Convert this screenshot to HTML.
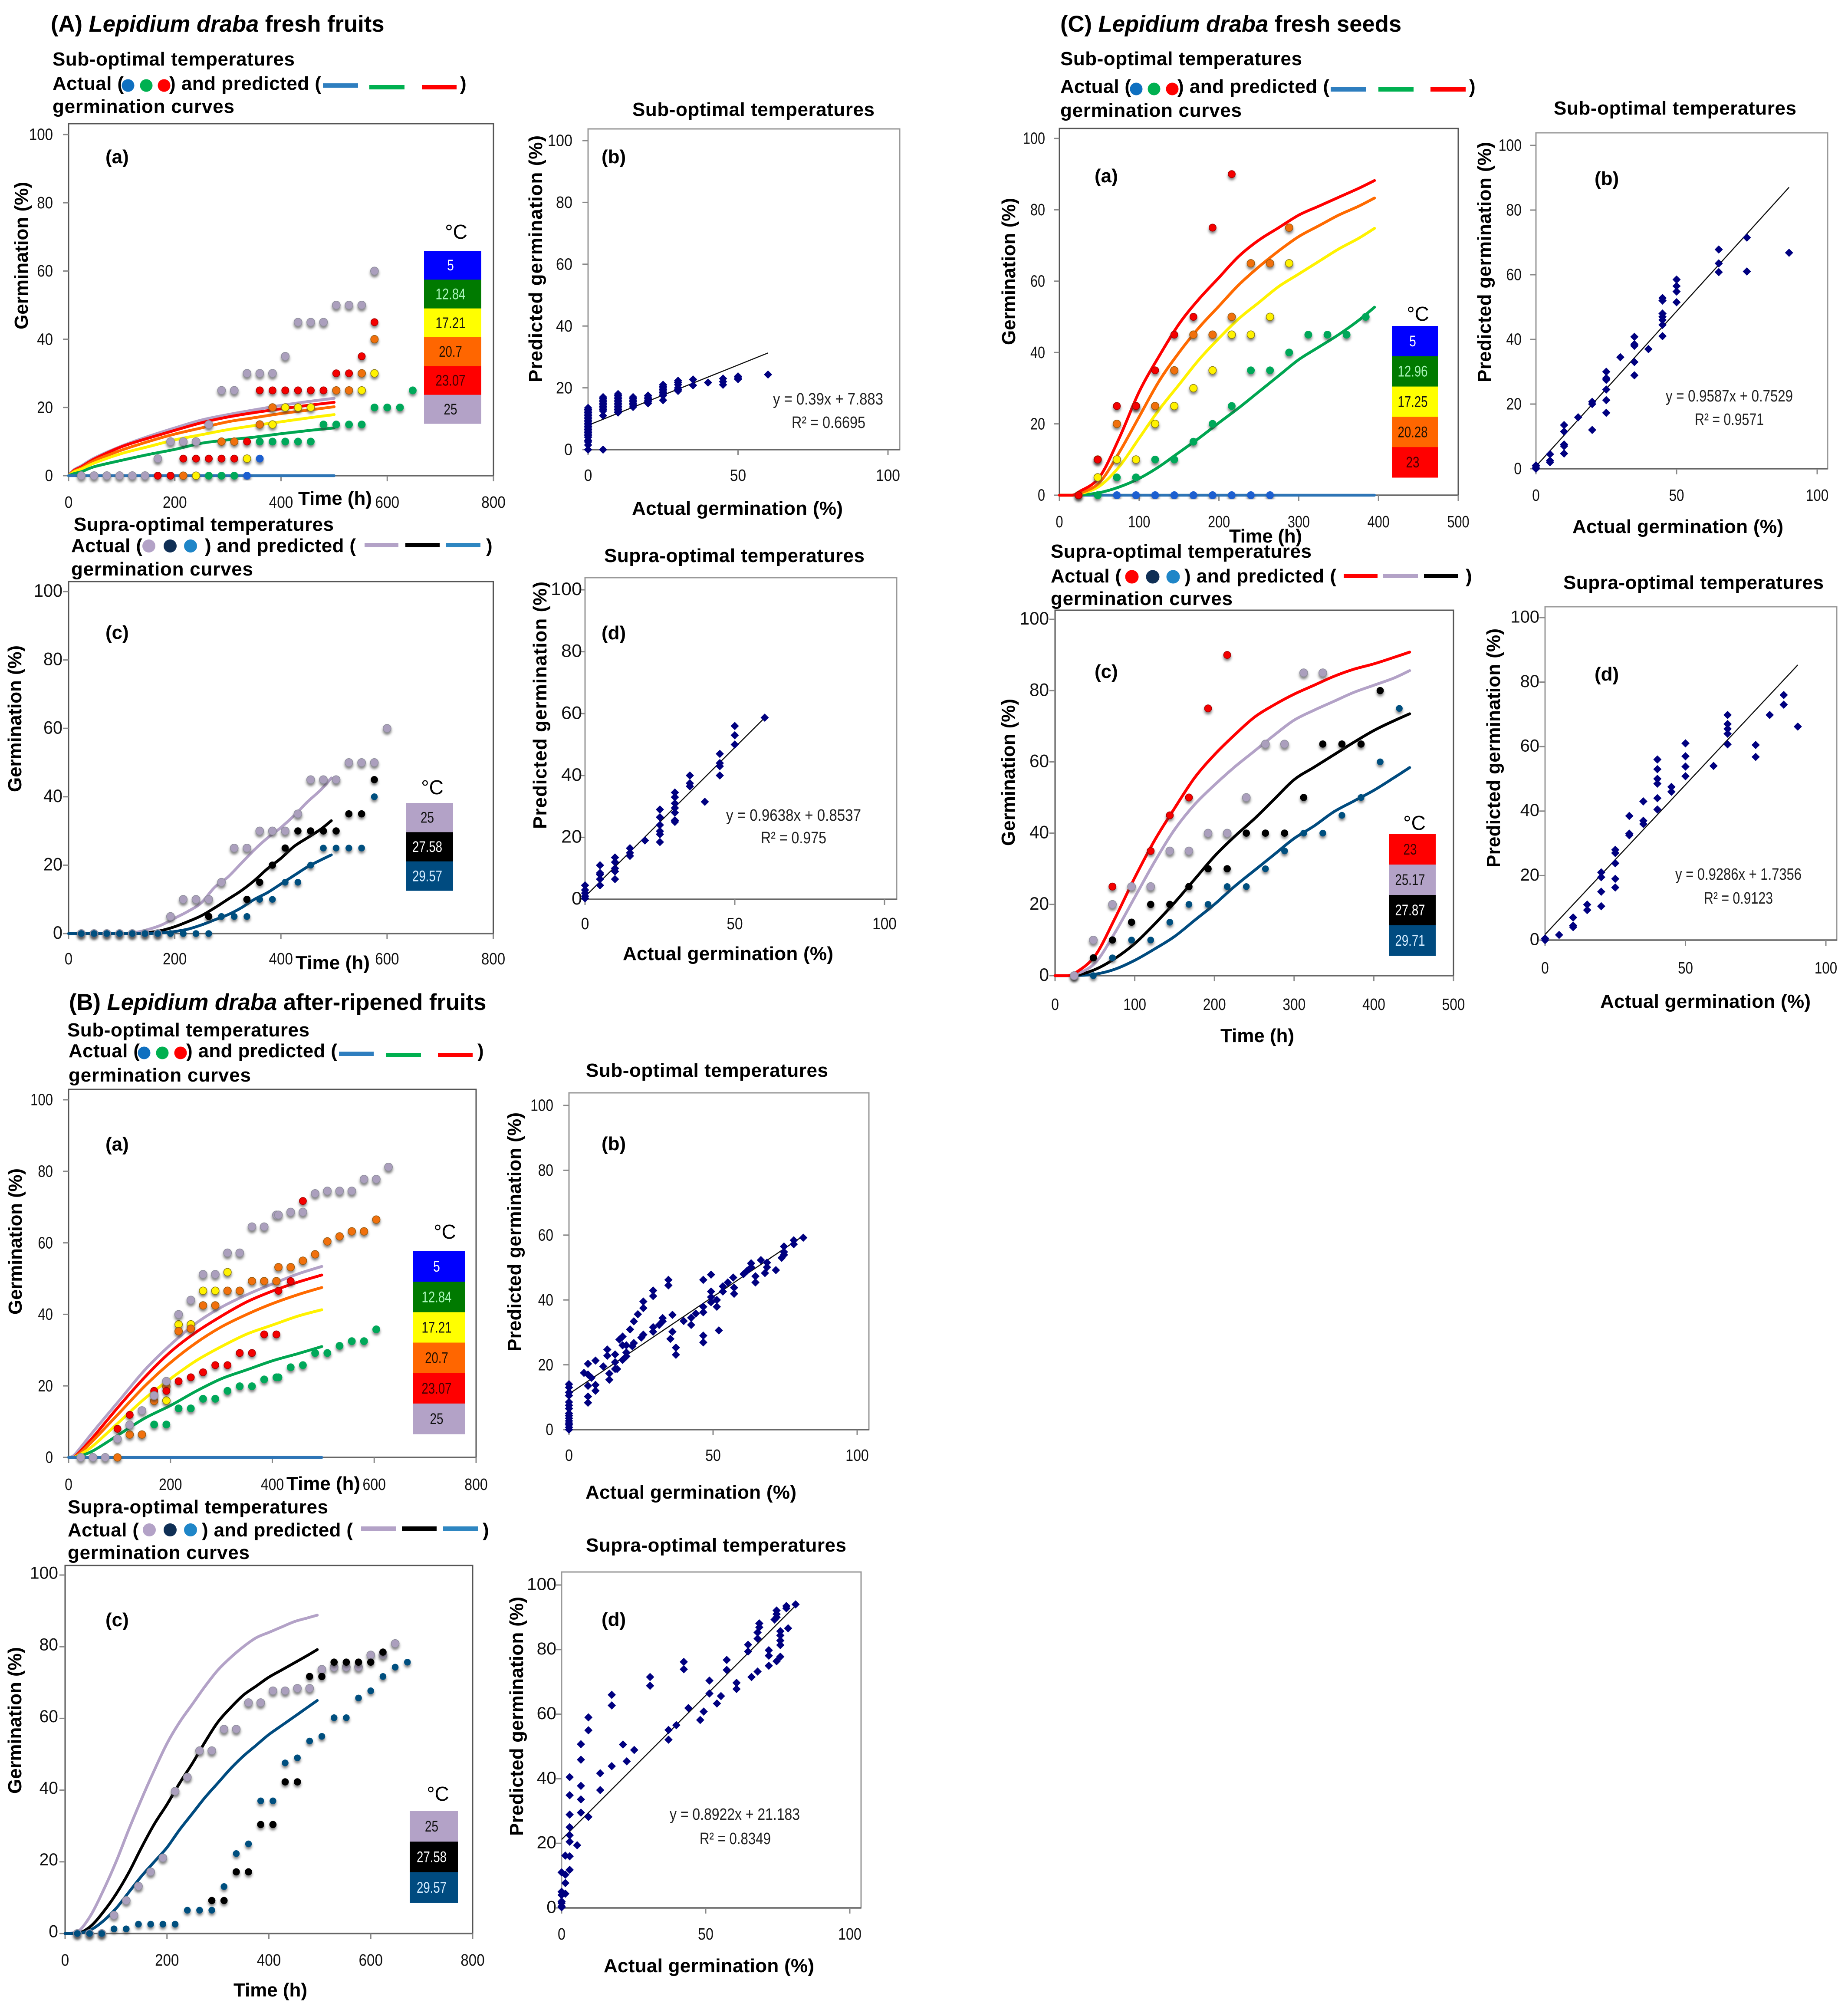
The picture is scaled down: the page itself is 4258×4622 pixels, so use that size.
<!DOCTYPE html>
<html lang="en">
<head>
<meta charset="utf-8">
<title>Lepidium draba germination curves</title>
<style>
html,body{margin:0;padding:0;background:#fff;width:4258px;height:4622px;overflow:hidden}
svg{display:block}
text{font-family:"Liberation Sans",Arial,sans-serif;fill:#000}
.h{font-weight:700;font-size:52.6px}
.b{font-weight:700;font-size:44px}
.l{font-weight:700;font-size:44px}
.eq{font-size:38px;fill:#222}
.deg{font-size:46px;text-anchor:middle}
</style>
</head>
<body>
<svg id="figure" xmlns="http://www.w3.org/2000/svg" width="4258" height="4622" viewBox="0 0 4258 4622">
<defs>
<filter id="dot-shadow" x="-5%" y="-5%" width="110%" height="110%">
<feDropShadow dx="0" dy="5" stdDeviation="3" flood-color="#333" flood-opacity="0.6"/>
</filter>
</defs>
<rect width="4258" height="4622" fill="#fff"/>

<!-- Section headings -->
<text class="h" x="117" y="73">(A) <tspan font-style="italic">Lepidium draba</tspan> fresh fruits</text>
<text class="h" x="159" y="2327">(B) <tspan font-style="italic">Lepidium draba</tspan> after-ripened fruits</text>
<text class="h" x="2443" y="73">(C) <tspan font-style="italic">Lepidium draba</tspan> fresh seeds</text>

<!-- A-a caption -->
<g>
<text class="l" x="121" y="151" textLength="558">Sub-optimal temperatures</text>
<text class="l" x="121" y="207" textLength="164">Actual (</text>
<circle cx="295" cy="197" r="14.5" fill="#0f70c0"/>
<circle cx="337" cy="197" r="14.5" fill="#00b050"/>
<circle cx="378" cy="197" r="14.5" fill="#ff0000"/>
<text class="l" x="390" y="207" textLength="350">) and predicted (</text>
<rect x="744" y="192" width="81" height="10" fill="#2e7ebf"/>
<rect x="851" y="196" width="81" height="10" fill="#00b050"/>
<rect x="972" y="196" width="80" height="10" fill="#ff0000"/>
<text class="l" x="1060" y="207">)</text>
<text class="l" x="121" y="260" textLength="419">germination curves</text>
</g>

<!-- A-c caption -->
<g>
<text class="l" x="170" y="1223" textLength="599">Supra-optimal temperatures</text>
<text class="l" x="164" y="1272" textLength="164">Actual (</text>
<circle cx="343" cy="1258" r="15" fill="#b3a2c7"/>
<circle cx="392" cy="1258" r="15" fill="#0f2f55"/>
<circle cx="439" cy="1258" r="15" fill="#1f86c8"/>
<text class="l" x="472" y="1272" textLength="348">) and predicted (</text>
<rect x="840" y="1251" width="78" height="10" fill="#b3a2c7"/>
<rect x="934" y="1251" width="79" height="10" fill="#000"/>
<rect x="1028" y="1251" width="79" height="10" fill="#2e86c1"/>
<text class="l" x="1120" y="1272">)</text>
<text class="l" x="164" y="1326" textLength="419">germination curves</text>
</g>

<!-- B-a caption -->
<g>
<text class="l" x="155" y="2388" textLength="558">Sub-optimal temperatures</text>
<text class="l" x="158" y="2436" textLength="164">Actual (</text>
<circle cx="332" cy="2426" r="14.5" fill="#0f70c0"/>
<circle cx="374" cy="2426" r="14.5" fill="#00b050"/>
<circle cx="416" cy="2426" r="14.5" fill="#ff0000"/>
<text class="l" x="429" y="2436" textLength="348">) and predicted (</text>
<rect x="781" y="2423" width="80" height="10" fill="#2e7ebf"/>
<rect x="890" y="2426" width="80" height="10" fill="#00b050"/>
<rect x="1009" y="2426" width="80" height="10" fill="#ff0000"/>
<text class="l" x="1100" y="2436">)</text>
<text class="l" x="158" y="2492" textLength="420">germination curves</text>
</g>

<!-- B-c caption -->
<g>
<text class="l" x="156" y="3487" textLength="600">Supra-optimal temperatures</text>
<text class="l" x="156" y="3540" textLength="164">Actual (</text>
<circle cx="344" cy="3525" r="15" fill="#b3a2c7"/>
<circle cx="392" cy="3525" r="15" fill="#0f2f55"/>
<circle cx="439" cy="3525" r="15" fill="#1f86c8"/>
<text class="l" x="465" y="3540" textLength="348">) and predicted (</text>
<rect x="832" y="3517" width="80" height="10" fill="#b3a2c7"/>
<rect x="926" y="3517" width="80" height="10" fill="#000"/>
<rect x="1021" y="3517" width="80" height="10" fill="#2e86c1"/>
<text class="l" x="1112" y="3540">)</text>
<text class="l" x="156" y="3592" textLength="419">germination curves</text>
</g>

<!-- C-a caption -->
<g>
<text class="l" x="2443" y="150" textLength="557">Sub-optimal temperatures</text>
<text class="l" x="2443" y="214" textLength="163">Actual (</text>
<circle cx="2618" cy="205" r="14.5" fill="#0f70c0"/>
<circle cx="2659" cy="205" r="14.5" fill="#00b050"/>
<circle cx="2701" cy="205" r="14.5" fill="#ff0000"/>
<text class="l" x="2713" y="214" textLength="350">) and predicted (</text>
<rect x="3066" y="201" width="81" height="10" fill="#2e7ebf"/>
<rect x="3176" y="201" width="81" height="10" fill="#00b050"/>
<rect x="3296" y="201" width="81" height="10" fill="#ff0000"/>
<text class="l" x="3385" y="214">)</text>
<text class="l" x="2443" y="269" textLength="418">germination curves</text>
</g>

<!-- C-c caption -->
<g>
<text class="l" x="2421" y="1285" textLength="601">Supra-optimal temperatures</text>
<text class="l" x="2421" y="1342" textLength="163">Actual (</text>
<circle cx="2608" cy="1329" r="15.5" fill="#ff0000"/>
<circle cx="2656" cy="1329" r="15.5" fill="#0f2f55"/>
<circle cx="2703" cy="1329" r="15.5" fill="#1f86c8"/>
<text class="l" x="2729" y="1342" textLength="350">) and predicted (</text>
<rect x="3096" y="1322" width="78" height="10" fill="#ff0000"/>
<rect x="3187" y="1322" width="80" height="10" fill="#b3a2c7"/>
<rect x="3281" y="1322" width="79" height="10" fill="#000"/>
<text class="l" x="3377" y="1342">)</text>
<text class="l" x="2421" y="1394" textLength="419">germination curves</text>
</g>

<!-- Scatter titles -->
<text class="l" x="1457" y="267" textLength="558">Sub-optimal temperatures</text>
<text class="l" x="1392" y="1295" textLength="600">Supra-optimal temperatures</text>
<text class="l" x="1350" y="2481" textLength="558">Sub-optimal temperatures</text>
<text class="l" x="1350" y="3575" textLength="600">Supra-optimal temperatures</text>
<text class="l" x="3580" y="264" textLength="559">Sub-optimal temperatures</text>
<text class="l" x="3602" y="1357" textLength="600">Supra-optimal temperatures</text>

<!-- Chart layers filled by script -->
<g id="chart-aa"></g>
<g id="chart-ab"></g>
<g id="chart-ac"></g>
<g id="chart-ad"></g>
<g id="chart-ba"></g>
<g id="chart-bb"></g>
<g id="chart-bc"></g>
<g id="chart-bd"></g>
<g id="chart-ca"></g>
<g id="chart-cb"></g>
<g id="chart-cc"></g>
<g id="chart-cd"></g>

<!-- Y axis titles -->
<text class="b" x="64" y="759" textLength="340" transform="rotate(-90 64 759)">Germination (%)</text>
<text class="b" x="49" y="1825" textLength="338" transform="rotate(-90 49 1825)">Germination (%)</text>
<text class="b" x="50" y="3029" textLength="337" transform="rotate(-90 50 3029)">Germination (%)</text>
<text class="b" x="49" y="4133" textLength="338" transform="rotate(-90 49 4133)">Germination (%)</text>
<text class="b" x="2339" y="795" textLength="339" transform="rotate(-90 2339 795)">Germination (%)</text>
<text class="b" x="2338" y="1949" textLength="339" transform="rotate(-90 2338 1949)">Germination (%)</text>
<text class="b" x="1249" y="881" textLength="569" transform="rotate(-90 1249 881)">Predicted germination (%)</text>
<text class="b" x="1259" y="1910" textLength="570" transform="rotate(-90 1259 1910)">Predicted germination (%)</text>
<text class="b" x="1200" y="3114" textLength="551" transform="rotate(-90 1200 3114)">Predicted germination (%)</text>
<text class="b" x="1205" y="4230" textLength="551" transform="rotate(-90 1205 4230)">Predicted germination (%)</text>
<text class="b" x="3435" y="881" textLength="554" transform="rotate(-90 3435 881)">Predicted germination (%)</text>
<text class="b" x="3456" y="1999" textLength="551" transform="rotate(-90 3456 1999)">Predicted germination (%)</text>

<!-- X axis titles -->
<text class="b" x="687" y="1163" textLength="170">Time (h)</text>
<text class="b" x="681" y="2233" textLength="171">Time (h)</text>
<text class="b" x="660" y="3433" textLength="170">Time (h)</text>
<text class="b" x="538" y="4600" textLength="170">Time (h)</text>
<text class="b" x="2832" y="1250" textLength="168">Time (h)</text>
<text class="b" x="2812" y="2401" textLength="170">Time (h)</text>
<text class="b" x="1456" y="1186" textLength="486">Actual germination (%)</text>
<text class="b" x="1435" y="2212" textLength="485">Actual germination (%)</text>
<text class="b" x="1349" y="3453" textLength="486">Actual germination (%)</text>
<text class="b" x="1391" y="4544" textLength="485">Actual germination (%)</text>
<text class="b" x="3623" y="1228" textLength="486">Actual germination (%)</text>
<text class="b" x="3687" y="2322" textLength="485">Actual germination (%)</text>

<!-- Panel letters -->
<text class="b" x="243" y="376">(a)</text>
<text class="b" x="1386" y="376">(b)</text>
<text class="b" x="243" y="1472">(c)</text>
<text class="b" x="1386" y="1473">(d)</text>
<text class="b" x="243" y="2651">(a)</text>
<text class="b" x="1386" y="2650">(b)</text>
<text class="b" x="243" y="3747">(c)</text>
<text class="b" x="1386" y="3746">(d)</text>
<text class="b" x="2522" y="420">(a)</text>
<text class="b" x="3674" y="426">(b)</text>
<text class="b" x="2522" y="1562">(c)</text>
<text class="b" x="3674" y="1568">(d)</text>

<!-- Degree labels -->
<text class="deg" x="1051" y="550">°C</text>
<text class="deg" x="996" y="1830">°C</text>
<text class="deg" x="1025" y="2854">°C</text>
<text class="deg" x="1009" y="4149">°C</text>
<text class="deg" x="3267" y="739">°C</text>
<text class="deg" x="3259" y="1912">°C</text>

<!-- Regression equations -->
<text class="eq" x="1781" y="932" textLength="254" lengthAdjust="spacingAndGlyphs">y = 0.39x + 7.883</text>
<text class="eq" x="1824" y="986" textLength="170" lengthAdjust="spacingAndGlyphs">R² = 0.6695</text>
<text class="eq" x="1673" y="1891" textLength="311" lengthAdjust="spacingAndGlyphs">y = 0.9638x + 0.8537</text>
<text class="eq" x="1753" y="1943" textLength="151" lengthAdjust="spacingAndGlyphs">R² = 0.975</text>
<text class="eq" x="1543" y="4193" textLength="300" lengthAdjust="spacingAndGlyphs">y = 0.8922x + 21.183</text>
<text class="eq" x="1612" y="4249" textLength="164" lengthAdjust="spacingAndGlyphs">R² = 0.8349</text>
<text class="eq" x="3838" y="925" textLength="293" lengthAdjust="spacingAndGlyphs">y = 0.9587x + 0.7529</text>
<text class="eq" x="3905" y="979" textLength="159" lengthAdjust="spacingAndGlyphs">R² = 0.9571</text>
<text class="eq" x="3860" y="2027" textLength="291" lengthAdjust="spacingAndGlyphs">y = 0.9286x + 1.7356</text>
<text class="eq" x="3926" y="2082" textLength="159" lengthAdjust="spacingAndGlyphs">R² = 0.9123</text>
</svg>

<script>
/* ---------- shared tick labels ---------- */
const timeTicks800 = [0,200,400,600,800];
const timeTicks500 = [0,100,200,300,400,500];
const germTicks = [0,20,40,60,80,100];
const actualTicks = [0,50,100];

/* ---------- (A) fresh fruits, sub-optimal curves ---------- */
const aaCurveHours = [0,10,25,50,100,150,200,250,300,350,400,450,500];
const aaCurvePurple = [0,1.7,3,5.3,8.7,11.5,14,16.3,17.9,19.3,20.6,21.7,22.7];
const aaCurveRed = [0,1.5,2.7,5,8.5,11,13.3,15.5,17.2,18.5,19.6,20.6,21.5];
const aaCurveOrange = [0,1.3,2.3,4.5,7.5,10,12.2,14,15.8,17,18.2,19.2,20.2];
const aaCurveYellow = [0,1.1,2,3.8,6.5,8.5,10.5,12,13.5,14.7,15.8,16.9,17.9];
const aaCurveGreen = [0,0.6,1.2,2.7,4.5,6.2,7.7,9.5,10.5,11.3,12.3,13.2,14];
const aaCurveBlue = [0,0,0,0,0,0,0,0,0,0,0,0,0];
const aaPurpleHours = [24,48,72,96,120,144,168,192,216,240,264,288,312,336,360,384,408,432,456,480,504,528,552,576];
const aaPurpleGerm = [0,0,0,0,0,0,5,10,10,10,15,25,25,30,30,30,35,45,45,45,50,50,50,60];
const aaRedHours = [168,192,216,240,264,288,312,336,360,384,408,432,456,480,504,528,552,576];
const aaRedGerm = [0,0,5,5,5,5,5,10,25,25,25,25,25,25,30,30,35,45];
const aaOrangeHours = [216,288,312,360,384,504,528,552,576];
const aaOrangeGerm = [0,10,10,15,20,25,25,30,40];
const aaYellowHours = [240,336,384,408,432,456,552,576];
const aaYellowGerm = [0,5,15,20,20,20,25,30];
const aaGreenHours = [264,288,312,360,384,408,432,456,480,504,528,552,576,600,624,648];
const aaGreenGerm = [0,0,0,10,10,10,10,10,15,15,15,15,20,20,20,25];
const aaBlueHours = [336,360];
const aaBlueGerm = [0,5];
const aaLegendLabels = ['5','12.84','17.21','20.7','23.07','25'];

/* ---------- (A) sub-optimal scatter ---------- */
const abActual = [
0,0,0,0,0,0,0,0,0,0,0,0,0,0,0,0,0,0,0,0,0,0,0,0,
5,5,5,5,5,5,5,5,5,5,5,5,
10,10,10,10,10,10,10,10,10,10,10,10,10,
15,15,15,15,15,15,15,
20,20,20,20,20,20,
25,25,25,25,25,25,25,25,25,
30,30,30,30,30,30,
35,35,
40,
45,45,45,
50,50,50,
60];
const abPredicted = [
0,1.5,2.5,3,4,4.5,5,5.5,6,6.5,7,7.5,8,8.5,9,9.5,10,10.5,11,11.5,12,12.5,13,13.5,
0,11,12.5,13,13.5,14,14.5,15,15.5,16,16.5,17,
12,12.5,13,13.5,14,14.5,15,15.5,16,16.5,17,17.5,18,
13.8,14.5,15,15.5,16,16.5,17,
15,15.5,16,16.5,17,17.5,
16,17.5,18,18.5,19,19.5,20,20.5,21,
19,19.5,20,21,21.7,22.3,
20.8,22.7,
21.7,
21,22,23,
22.8,23.2,23.7,
24.3];
const abTrend = [0.39,7.883];
const abTrendRange = [0,60];

/* ---------- (A) supra-optimal curves ---------- */
const acCurveHours = [0,100,125,150,175,200,225,250,275,300,325,350,375,400,425,450,475,495];
const acCurvePurple = [0,0,0.3,1.2,2.5,4.5,6.5,9,13.5,16.5,20.5,24.5,28,31,34.5,38.5,42,45.5];
const acCurveBlack = [0,0,0,0.3,0.9,2,3.5,5.2,7.5,10,12.5,15.5,19,22,25.5,28,30.5,33];
const acCurveNavy = [0,0,0,0,0.2,0.6,1.3,2.5,4,5.5,7.5,10,12,14.5,17,19.5,21.5,23];
const acPurpleHours = [24,48,72,96,120,144,168,192,216,240,264,288,312,336,360,384,408,432,456,480,504,528,552,576,600];
const acPurpleGerm = [0,0,0,0,0,0,0,5,10,10,10,15,25,25,30,30,30,35,45,45,45,50,50,50,60];
const acBlackHours = [264,336,360,384,408,432,456,480,504,528,552,576];
const acBlackGerm = [5,10,15,20,25,30,30,30,30,35,35,45];
const acNavyHours = [24,48,72,96,120,144,168,192,216,240,264,288,312,336,360,384,408,432,456,480,504,528,552,576];
const acNavyGerm = [0,0,0,0,0,0,0,0,0,0,0,5,5,5,10,10,15,15,20,25,25,25,25,40];
const acLegendLabels = ['25','27.58','29.57'];

/* ---------- (A) supra-optimal scatter ---------- */
const adActual = [
0,0,0,0,0,
5,5,5,5,5,
10,10,10,10,10,
15,15,15,
20,
25,25,25,25,25,25,
30,30,30,30,30,30,30,
35,35,35,
40,
45,45,45,45,
50,50,50,
60];
const adPredicted = [
0.3,1,2,3,4.5,
4.5,6.5,8,8.5,11,
6.5,9,10,12,13.5,
14,15,16.5,
19,
18.5,21,22,24,26.5,29,
25,25.5,28,29.5,31,33,34.5,
36.5,37.5,40,
31.5,
40,43,44,47,
50,53,56,
58.7];
const adTrend = [0.9638,0.8537];
const adTrendRange = [0,60];

/* ---------- (B) after-ripened, sub-optimal curves ---------- */
const baCurveHours = [0,10,25,50,100,150,200,250,300,350,400,450,497];
const baCurvePurple = [0,0.5,3,7.5,16,24.5,31.5,37.5,42,45.5,48.5,51.3,53.4];
const baCurveRed = [0,0,2,6,14.5,22.5,29.5,35,39.5,43.5,46.5,49,51];
const baCurveOrange = [0,0,1.5,5,12.5,20,26.5,32,36.5,40,43,45.5,47.5];
const baCurveYellow = [0,0,1,3.5,10,16.5,22,27,31,34.5,37,39.5,41.3];
const baCurveGreen = [0,0,0.5,2,6.5,11,14.5,18.5,22,24.5,27,29,31];
const baCurveBlue = [0,0,0,0,0,0,0,0,0,0,0,0,0];
const baPurpleHours = [24,48,72,96,120,144,168,192,216,240,264,288,312,336,360,384,408,412,436,460,484,508,532,556,580,604,628];
const baPurpleGerm = [0,0,0,5.2,9.1,13.1,17.3,21.3,40,44,51.2,51.2,57.2,57.2,64.5,64.5,67.8,67.8,68.6,68.6,73.8,74.5,74.5,74.5,77.8,77.8,81.2];
const baOrangeHours = [96,120,144,168,192,216,240,264,288,312,336,360,384,408,412,436,460,484,508,532,556,580,604];
const baOrangeGerm = [0,6.4,6.4,15.8,19.8,35.3,36,42.5,42.5,46.6,46.6,49.3,49.3,49.3,53.2,53.2,55,56.8,60.4,61.8,63.2,63.2,66.5];
const baYellowHours = [192,216,240,264,288,312];
const baYellowGerm = [15.9,37.2,37.2,46.6,46.6,51.8];
const baRedHours = [96,120,168,192,216,240,264,288,312,336,360,384,408,412,436,460];
const baRedGerm = [8,11.9,18.6,18.6,21.3,22.4,23.8,25.8,25.8,29.2,29.2,34.4,34.4,46.6,49.3,71.7];
const baGreenHours = [168,192,216,240,264,288,312,336,360,384,408,412,436,460,484,508,532,556,580,604];
const baGreenGerm = [9.2,9.2,13.7,13.7,16.4,16.4,18.6,19.9,19.9,21.8,22.4,22.4,25.2,25.8,29.2,29.2,31.2,32.5,32.5,35.8];
const baLegendLabels = ['5','12.84','17.21','20.7','23.07','25'];

/* ---------- (B) sub-optimal scatter ---------- */
const bbActual = [
0,0,0,0,0,0,0,0,0,0,0,0,0,0,0,
5.2,6.6,6.6,6.6,6.6,6.6,7.8,9.2,9.2,9.2,11.9,13.3,13.3,14,14,
16,16,16,16.7,17.5,18.6,18.6,18.6,19.9,19.9,19.9,21.2,22.5,22,22.5,23.9,25.1,25.8,25.8,25.8,
29.2,29.2,29.2,29.2,31.3,32.5,32.5,34.5,34.5,35.9,35.9,35.2,37.1,37.1,39.8,42.4,42.4,44,
46.6,46.6,46.6,46.6,46.6,49.3,49.3,49.3,49.3,51.3,51.3,52,53.4,53.4,55.1,57,57.3,57.3,
60.6,61.8,63.2,63.2,64.7,64.7,66.6,68,68.7,68.7,71.8,73.8,74.6,74.6,74.6,78,78,81.3];
const bbPredicted = [
0,0.7,1.5,2,2.7,3.5,4.3,5,6.5,7.5,8.5,10.5,11.5,13,14,
17.5,20.3,17,13.5,10.2,8.3,16,21.3,13.8,12,19.5,24.7,22.8,17.3,15.4,
23.2,20.8,18.7,18.7,27.8,28.7,26,21.5,26,23.8,22.6,30.9,33.4,25.7,26.7,35.6,28.4,39.5,37.5,29.3,
42.9,41.2,31.6,30.2,32.3,33.4,34.4,46.2,44.5,35.4,30.2,28,25.3,23.1,33.5,34.5,32.3,35.8,
46.2,37.9,36.2,29,26.9,47.8,42.6,40.9,39.3,40,37.9,30.6,44.2,42.6,45.4,46.9,43.8,41.9,
48,49,51.3,50.1,47.3,45.4,52.3,48.3,51.5,50.1,49.2,53,56.5,54.8,53.9,58.4,57.2,59.2];
const bbTrend = [0.6,11];
const bbTrendRange = [0,81];

/* ---------- (B) supra-optimal curves ---------- */
const bcCurveHours = [0,25,50,75,100,125,150,175,200,225,250,275,300,325,350,375,400,425,450,475,495];
const bcCurvePurple = [0,0.5,5,12,20,29,37.5,45.5,53,59,64,69,73.5,77,80,82.5,84,85.5,87,88,88.8];
const bcCurveBlack = [0,0,2,6,11,17,24,30.5,36,42,47.5,53.5,59,63,66.5,69,71.5,73.5,75.5,77.5,79.2];
const bcCurveNavy = [0,0,1,3.5,7,11.5,16,20,24,29,33.5,38,42,46,49.5,52.5,55.5,58,60.5,63,65];
const bcPurpleHours = [24,48,72,96,120,144,168,192,216,240,264,288,312,336,360,384,408,432,456,480,504,528,552,576,600,624,648];
const bcPurpleGerm = [0,0,0,5.1,9.2,13.2,17.2,21.1,39.7,43.6,51,51,57,57,64.4,64.4,67.7,67.7,68.4,68.4,73.7,74.3,74.3,74.3,77.7,77.7,80.9];
const bcBlackHours = [288,312,336,360,384,408,432,456,480,504,528,552,576,600,624];
const bcBlackGerm = [9.2,9.2,17.2,17.2,30.4,30.4,42.3,42.3,71.7,71.7,75.7,75.7,75.7,75.7,78.5];
const bcNavyHours = [24,48,72,96,120,144,168,192,216,240,264,288,312,336,360,384,408,432,456,480,504,528,552,576,600,624,648,672];
const bcNavyGerm = [0,0,0,1.3,1.3,2.6,2.6,2.6,2.6,6.5,6.5,6.5,13.1,22.3,25,37,37,47.6,49,53.7,55,60.2,60.2,65.7,67.7,71.7,74.3,75.7];
const bcLegendLabels = ['25','27.58','29.57'];

/* ---------- (B) supra-optimal scatter ---------- */
const bdActual = [
0,0,0,0,0,0,0,
1.3,1.3,1.3,1.3,
2.8,2.8,2.8,2.8,2.8,2.8,2.8,2.8,
5.4,6.7,6.7,6.7,6.7,6.7,9.3,9.3,9.3,
13.4,13.4,17.4,17.4,17.4,21.3,22.6,25.2,30.7,30.7,
37.1,37.1,39.8,42.4,42.4,44,48.1,49.3,51.3,51.3,53.9,55.3,57.3,57.3,
60.7,60.7,64.7,64.7,65.9,68,68,68,68.6,68.6,
71.9,71.9,71.9,73.9,74.6,74.6,74.6,74.6,75.9,75.9,75.9,75.9,75.9,78,78,78.6,81.2];
const bdPredicted = [
0.2,0.5,1.5,2,4,5,11,
16.2,10.3,7.7,4.4,
40.5,34.9,28.9,25,22.5,20.5,16,11.8,
19.4,50.7,45.9,37.8,33.6,29.5,59,55,28.2,
41.7,36.5,66,62.7,43.9,50.6,45.4,48.9,71.5,68.8,
55.1,52.1,56.6,76.2,73.9,61.9,58.2,60.8,70.4,66.4,63.3,65.6,76.8,73.7,
69.7,67.8,81.5,79.4,71.5,73.2,85.3,83.4,88.1,86.9,
79.8,78.1,75,89.3,92.1,91,90,76.4,77.8,85.7,84.4,82.8,81.4,93.5,92.8,86.6,94];
const bdTrend = [0.8922,21.183];
const bdTrendRange = [0,81];

/* ---------- (C) fresh seeds, sub-optimal curves ---------- */
const caCurveHours = [0,16,25,50,75,100,125,150,175,200,225,250,275,300,325,350,375,395];
const caCurveRed = [0,0,1,5,16,29,39,48,55,61,67,71.5,75,78.5,81,83.5,86,88.2];
const caCurveOrange = [0,0,0.5,3.5,12,22,32,40,47,53,59,64,68.5,72.5,75.5,78.5,81,83.3];
const caCurveYellow = [0,0,0.3,2.5,8,16,24,31,38,44,49.5,54,58.5,62,65.5,69,72,74.8];
const caCurveGreen = [0,0,0,0.7,2.3,4.7,8,12,16,20.3,24.5,29,33.5,38,41.5,45,49,52.7];
const caCurveBlue = [0,0,0,0,0,0,0,0,0,0,0,0,0,0,0,0,0,0];
const caBlueHours = [72,96,120,144,168,192,216,240,264];
const caBlueGerm = [0,0,0,0,0,0,0,0,0];
const caGreenHours = [48,72,96,120,144,168,192,216,240,264,288,312,336,360,384];
const caGreenGerm = [0,5,5,10,10,15,20,25,35,35,40,45,45,45,50];
const caYellowHours = [48,72,96,120,144,168,192,216,240,264,288];
const caYellowGerm = [5,10,10,20,25,30,35,45,45,50,65];
const caOrangeHours = [24,48,72,96,120,144,168,192,216,240,264,288];
const caOrangeGerm = [0,10,20,25,25,35,45,45,50,65,65,75];
const caRedHours = [24,48,72,96,120,144,168,192,216];
const caRedGerm = [0,10,25,25,35,45,50,75,90];
const caLegendLabels = ['5','12.96','17.25','20.28','23'];

/* ---------- (C) sub-optimal scatter ---------- */
const cbActual = [
0,0,0,
5,5,5,
10,10,10,10,10,
15,
20,20,20,
25,25,25,25,25,25,
30,
35,35,35,35,35,
40,
45,45,45,45,45,45,45,
50,50,50,50,
65,65,65,
75,75,
90];
const cbPredicted = [
0,0.5,1,
2,2.5,4.5,
4.7,7,7.5,11.5,13.5,
15.9,
12,20,20.7,
17.3,21.2,24.5,27.5,28,30,
34.5,
28.9,33,38,38.5,40.8,
37,
41,44.5,46,47,48,52,52.8,
51.5,54.8,56.5,58.5,
60.8,63.5,67.8,
61,71.5,
66.8];
const cbTrend = [0.9587,0.7529];
const cbTrendRange = [0,90];

/* ---------- (C) supra-optimal curves ---------- */
const ccCurveHours = [0,15,25,50,75,100,125,150,175,200,225,250,275,300,325,350,375,400,425,445];
const ccCurveRed = [0,0,0.7,5.5,16,27.5,38,47,55.5,62,67.5,72.5,76,79,81.5,84,86,87.5,89.3,90.8];
const ccCurvePurple = [0,0,0.3,3.5,12,22,32,41,48,53.5,58.5,63,67.5,71.7,74.5,77,79.5,81.5,83.5,85.6];
const ccCurveBlack = [0,0,0,1.7,4.8,9,14.5,20.5,27,33.5,39,44,49.5,55,58.5,62,65.5,68.8,71.5,73.5];
const ccCurveNavy = [0,0,0,0.4,1.8,4.3,7.5,11,15.5,20,25,29.5,34,38.5,42,46,49,52,55.5,58.4];
const ccNavyHours = [24,48,72,96,120,144,168,192,216,240,264,288,312,336,360,384,408,432];
const ccNavyGerm = [0,0,5,10,10,15,20,20,25,25,30,35,40,40,45,50,60,75];
const ccBlackHours = [24,48,72,96,120,144,168,192,216,240,264,288,312,336,360,384,408];
const ccBlackGerm = [0,5,10,15,20,20,25,30,30,40,40,40,50,65,65,65,80];
const ccPurpleHours = [24,48,72,96,120,144,168,192,216,240,264,288,312,336];
const ccPurpleGerm = [0,10,20,25,25,35,35,40,40,50,65,65,85,85];
const ccRedHours = [72,120,144,168,192,216];
const ccRedGerm = [25,35,45,50,75,90];
const ccLegendLabels = ['23','25.17','27.87','29.71'];

/* ---------- (C) supra-optimal scatter ---------- */
const cdActual = [
0,0,
5,
10,10,10,
15,15,
20,20,20,20,
25,25,25,25,25,
30,30,30,
35,35,35,
40,40,40,40,40,40,
45,45,
50,50,50,50,
60,
65,65,65,65,65,
75,75,
80,
85,85,
90];
const cdPredicted = [
0,0.5,
1.6,
4,4.5,7,
9.3,11,
10.5,15,19.5,21,
16.3,19,23.8,27,28,
32.5,33,38.5,
36,37,43,
40.5,44,48.5,50,53,56,
46,47.5,
50.8,53.8,57,61,
54,
60.7,64,65.5,67,69.8,
56.8,60.5,
69.8,
73,76,
66.2];
const cdTrend = [0.9286,1.7356];
const cdTrendRange = [0,90];

/* ---------- drawing helpers ---------- */
const NS = 'http://www.w3.org/2000/svg';
const STYLE = {
  purple:{line:'#b3a2c7',fill:'#ab9fbd',stroke:'#8f8f9c',r:9.2},
  red:{line:'#ff0000',fill:'#f40000',stroke:'#a80000',r:8.2},
  orange:{line:'#ff6a00',fill:'#f0700f',stroke:'#9a5a10',r:8.8},
  yellow:{line:'#fff200',fill:'#fff200',stroke:'#8a7a10',r:8.8},
  green:{line:'#00a651',fill:'#00a85a',stroke:'#00a85a',r:8.2},
  blue:{line:'#2e75b6',fill:'#1f5fd0',stroke:'#1f5fd0',r:8.2},
  black:{line:'#000000',fill:'#000000',stroke:'#000000',r:7.6},
  navy:{line:'#004b7f',fill:'#00507f',stroke:'#00507f',r:7}
};
const KEY_FILL = {blue:'#0000ff',green:'#007a00',yellow:'#ffff00',orange:'#ff6600',red:'#ff0000',purple:'#b3a2c7',black:'#000000',navy:'#004b80'};
const KEY_TEXT = {blue:'#ffffff',green:'#aaf5bb',yellow:'#111111',orange:'#221100',red:'#440000',purple:'#111111',black:'#ffffff',navy:'#d5ecff'};

function make(tag, parent, attrs){
  const e = document.createElementNS(NS, tag);
  for(const k in attrs){ e.setAttribute(k, attrs[k]); }
  parent.appendChild(e);
  return e;
}
function scales(c){
  return {
    x: v => c.xPx0 + (v / c.xMax) * (c.xPxMax - c.xPx0),
    y: v => c.y0 + (v / 100) * (c.y100 - c.y0)
  };
}
function labelWidth(s, digit){
  return String(s).length * digit;
}
/* Smooth path through the scaled data points (Catmull-Rom to Bezier). */
function smoothPath(p){
  let d = 'M' + p[0][0].toFixed(1) + ' ' + p[0][1].toFixed(1);
  for(let i = 0; i < p.length - 1; i++){
    const a = p[Math.max(i-1,0)], b = p[i], c = p[i+1], e = p[Math.min(i+2,p.length-1)];
    const c1x = b[0] + (c[0]-a[0])/6, c1y = Math.min(b[1] + (c[1]-a[1])/6, Math.max(b[1],c[1]));
    const c2x = c[0] - (e[0]-b[0])/6, c2y = Math.min(c[1] - (e[1]-b[1])/6, Math.max(b[1],c[1]));
    d += ' C' + c1x.toFixed(1) + ' ' + c1y.toFixed(1) + ' ' + c2x.toFixed(1) + ' ' + c2y.toFixed(1) + ' ' + c[0].toFixed(1) + ' ' + c[1].toFixed(1);
  }
  return d;
}
function drawAxes(c, xTicks, yTicks){
  const g = document.getElementById('chart-' + c.id);
  const s = scales(c);
  const frame = make('rect', g, {x:c.xPx0, y:c.top, width:c.right-c.xPx0, height:c.y0-c.top, fill:'none', stroke:c.frame, 'stroke-width':3});
  
  
  const axis = make('line', g, {x1:c.xPx0, x2:c.right, y1:c.y0, y2:c.y0, stroke:'#666', 'stroke-width':3.5});
  
  
  xTicks.forEach(t => {
    const px = s.x(t);
    const tick = make('line', g, {x1:px, x2:px, y1:c.y0, y2:c.y0+13, stroke:'#888', 'stroke-width':3});
    
    
    const lab = make('text', g, {x:px-labelWidth(t,c.xDigit)/2, y:c.xBase, 'font-size':c.xSize, textLength:labelWidth(t,c.xDigit), lengthAdjust:'spacingAndGlyphs'});
    lab.style.fill = '#111';
    lab.textContent = t;
    
    
  });
  yTicks.forEach(t => {
    const py = s.y(t);
    const tick = make('line', g, {x1:c.xPx0-13, x2:c.xPx0, y1:py, y2:py, stroke:'#888', 'stroke-width':3});
    
    
    const w = labelWidth(t,c.yDigit);
    const lab = make('text', g, {x:c.yRight-w, y:py+c.ySize*0.36+c.yDy, 'font-size':c.ySize, textLength:w, lengthAdjust:'spacingAndGlyphs'});
    lab.style.fill = '#111';
    lab.textContent = t;
    
    
  });
}
function drawCurve(c, hours, germ, color){
  const g = document.getElementById('chart-' + c.id);
  const s = scales(c);
  const pts = hours.map((h,i) => [s.x(h), s.y(germ[i])]);
  const line = make('path', g, {d:smoothPath(pts), fill:'none', stroke:STYLE[color].line, 'stroke-width':6.5, 'stroke-linejoin':'round', 'stroke-linecap':'round'});
  
  
}
function drawDots(c, hours, germ, color){
  const g = document.getElementById('chart-' + c.id);
  const s = scales(c);
  const st = STYLE[color];
  const layer = make('g', g, {filter:'url(#dot-shadow)'});
  
  
  hours.forEach((h,i) => {
    const dot = make('circle', layer, {cx:s.x(h), cy:s.y(germ[i]), r:st.r, fill:st.fill, stroke:st.stroke, 'stroke-width':1.5});
    
    
  });
}
function drawKey(c, labels, colors, box){
  const g = document.getElementById('chart-' + c.id);
  const h = (box.y1 - box.y0) / labels.length;
  labels.forEach((lab,i) => {
    const swatch = make('rect', g, {x:box.x0, y:box.y0+i*h, width:box.x1-box.x0, height:h+0.5, fill:KEY_FILL[colors[i]]});
    
    
    const digits = lab.replace('.','').length;
    const w = digits*15.5 + (lab.indexOf('.')>=0 ? 7 : 0);
    const cx = (box.x0+box.x1)/2 - 5;
    const t = make('text', g, {x:cx-w/2, y:box.y0+i*h+h/2+12, 'font-size':35, textLength:w, lengthAdjust:'spacingAndGlyphs'});
    t.style.fill = KEY_TEXT[colors[i]];
    t.textContent = lab;
    
    
  });
}
function drawScatter(c, actual, predicted, trend, range){
  const g = document.getElementById('chart-' + c.id);
  const s = scales(c);
  const tl = make('line', g, {x1:s.x(range[0]), y1:s.y(trend[0]*range[0]+trend[1]), x2:s.x(range[1]), y2:s.y(trend[0]*range[1]+trend[1]), stroke:'#111', 'stroke-width':2.5});
  
  
  actual.forEach((a,i) => {
    const px = s.x(a), py = s.y(predicted[i]), d = 9.5;
    const m = make('polygon', g, {points:(px)+','+(py-d)+' '+(px+d)+','+py+' '+px+','+(py+d)+' '+(px-d)+','+py, fill:'#000080'});
    
    
  });
}

/* ---------- chart geometry ---------- */
const DARK = '#555', GREY = '#999';
const cAA = {id:'aa',xMax:800,xPx0:158,xPxMax:1137,right:1137,top:285,y0:1096,y100:310,frame:DARK,xBase:1170,yRight:122,yDy:-1,xDigit:18.6,yDigit:18.4,xSize:38,ySize:38};
const cAB = {id:'ab',xMax:100,xPx0:1355,xPxMax:2046,right:2073,top:297,y0:1036,y100:324,frame:GREY,xBase:1108,yRight:1319,yDy:-1,xDigit:18.6,yDigit:19,xSize:38,ySize:38};
const cAC = {id:'ac',xMax:800,xPx0:158,xPxMax:1136.5,right:1136.5,top:1340,y0:2151,y100:1363,frame:DARK,xBase:2222,yRight:144,yDy:-3,xDigit:18.4,yDigit:22,xSize:38,ySize:42};
const cAD = {id:'ad',xMax:100,xPx0:1348,xPxMax:2038,right:2066,top:1331,y0:2072,y100:1359,frame:GREY,xBase:2141,yRight:1341,yDy:-3,xDigit:18.6,yDigit:24,xSize:38,ySize:42};
const cBA = {id:'ba',xMax:800,xPx0:158,xPxMax:1097,right:1097,top:2510,y0:3358,y100:2534,frame:DARK,xBase:3433,yRight:122,yDy:-1,xDigit:17.8,yDigit:17.3,xSize:38,ySize:38};
const cBB = {id:'bb',xMax:100,xPx0:1311,xPxMax:1975,right:2002,top:2518,y0:3294,y100:2547,frame:GREY,xBase:3366,yRight:1275,yDy:-1,xDigit:17.8,yDigit:17.6,xSize:38,ySize:38};
const cBC = {id:'bc',xMax:800,xPx0:150,xPxMax:1089,right:1089,top:3607,y0:4455,y100:3629,frame:DARK,xBase:4529,yRight:134,yDy:-6,xDigit:18.4,yDigit:21.7,xSize:38,ySize:40};
const cBD = {id:'bd',xMax:100,xPx0:1294,xPxMax:1958,right:1984,top:3622,y0:4396,y100:3652,frame:GREY,xBase:4469,yRight:1282,yDy:-3,xDigit:18,yDigit:22.7,xSize:38,ySize:40};
const cCA = {id:'ca',xMax:500,xPx0:2441,xPxMax:3360,right:3360,top:296,y0:1141,y100:319,frame:DARK,xBase:1215,yRight:2408,yDy:-1,xDigit:17,yDigit:17,xSize:38,ySize:38};
const cCB = {id:'cb',xMax:100,xPx0:3539,xPxMax:4187,right:4211,top:306,y0:1080,y100:335,frame:GREY,xBase:1154,yRight:3506,yDy:-1,xDigit:17.4,yDigit:17.8,xSize:38,ySize:38};
const cCC = {id:'cc',xMax:500,xPx0:2431,xPxMax:3349,right:3349,top:1406,y0:2248,y100:1427,frame:DARK,xBase:2327,yRight:2417,yDy:-3,xDigit:17.6,yDigit:22.5,xSize:38,ySize:42};
const cCD = {id:'cd',xMax:100,xPx0:3560,xPxMax:4207,right:4232,top:1398,y0:2166,y100:1423,frame:GREY,xBase:2243,yRight:3547,yDy:-3,xDigit:17.4,yDigit:22.2,xSize:38,ySize:40};

/* ---------- (A) ---------- */
drawAxes(cAA, timeTicks800, germTicks);
drawCurve(cAA, aaCurveHours, aaCurvePurple, 'purple');
drawCurve(cAA, aaCurveHours, aaCurveRed, 'red');
drawCurve(cAA, aaCurveHours, aaCurveOrange, 'orange');
drawCurve(cAA, aaCurveHours, aaCurveYellow, 'yellow');
drawCurve(cAA, aaCurveHours, aaCurveGreen, 'green');
drawCurve(cAA, aaCurveHours, aaCurveBlue, 'blue');
drawDots(cAA, aaPurpleHours, aaPurpleGerm, 'purple');
drawDots(cAA, aaRedHours, aaRedGerm, 'red');
drawDots(cAA, aaOrangeHours, aaOrangeGerm, 'orange');
drawDots(cAA, aaYellowHours, aaYellowGerm, 'yellow');
drawDots(cAA, aaGreenHours, aaGreenGerm, 'green');
drawDots(cAA, aaBlueHours, aaBlueGerm, 'blue');
drawKey(cAA, aaLegendLabels, ['blue','green','yellow','orange','red','purple'], {x0:977,x1:1109,y0:578,y1:976});

drawAxes(cAB, actualTicks, germTicks);
drawScatter(cAB, abActual, abPredicted, abTrend, abTrendRange);

drawAxes(cAC, timeTicks800, germTicks);
drawCurve(cAC, acCurveHours, acCurvePurple, 'purple');
drawCurve(cAC, acCurveHours, acCurveBlack, 'black');
drawCurve(cAC, acCurveHours, acCurveNavy, 'navy');
drawDots(cAC, acPurpleHours, acPurpleGerm, 'purple');
drawDots(cAC, acBlackHours, acBlackGerm, 'black');
drawDots(cAC, acNavyHours, acNavyGerm, 'navy');
drawKey(cAC, acLegendLabels, ['purple','black','navy'], {x0:935,x1:1044,y0:1850,y1:2052});

drawAxes(cAD, actualTicks, germTicks);
drawScatter(cAD, adActual, adPredicted, adTrend, adTrendRange);

/* ---------- (B) ---------- */
drawAxes(cBA, timeTicks800, germTicks);
drawCurve(cBA, baCurveHours, baCurvePurple, 'purple');
drawCurve(cBA, baCurveHours, baCurveRed, 'red');
drawCurve(cBA, baCurveHours, baCurveOrange, 'orange');
drawCurve(cBA, baCurveHours, baCurveYellow, 'yellow');
drawCurve(cBA, baCurveHours, baCurveGreen, 'green');
drawCurve(cBA, baCurveHours, baCurveBlue, 'blue');
drawDots(cBA, baGreenHours, baGreenGerm, 'green');
drawDots(cBA, baYellowHours, baYellowGerm, 'yellow');
drawDots(cBA, baOrangeHours, baOrangeGerm, 'orange');
drawDots(cBA, baRedHours, baRedGerm, 'red');
drawDots(cBA, baPurpleHours, baPurpleGerm, 'purple');
drawKey(cBA, baLegendLabels, ['blue','green','yellow','orange','red','purple'], {x0:951,x1:1071,y0:2883,y1:3304});

drawAxes(cBB, actualTicks, germTicks);
drawScatter(cBB, bbActual, bbPredicted, bbTrend, bbTrendRange);

drawAxes(cBC, timeTicks800, germTicks);
drawCurve(cBC, bcCurveHours, bcCurvePurple, 'purple');
drawCurve(cBC, bcCurveHours, bcCurveBlack, 'black');
drawCurve(cBC, bcCurveHours, bcCurveNavy, 'navy');
drawDots(cBC, bcPurpleHours, bcPurpleGerm, 'purple');
drawDots(cBC, bcBlackHours, bcBlackGerm, 'black');
drawDots(cBC, bcNavyHours, bcNavyGerm, 'navy');
drawKey(cBC, bcLegendLabels, ['purple','black','navy'], {x0:944,x1:1055,y0:4173,y1:4384});

drawAxes(cBD, actualTicks, germTicks);
drawScatter(cBD, bdActual, bdPredicted, bdTrend, bdTrendRange);

/* ---------- (C) ---------- */
drawAxes(cCA, timeTicks500, germTicks);
drawCurve(cCA, caCurveHours, caCurveBlue, 'blue');
drawCurve(cCA, caCurveHours, caCurveGreen, 'green');
drawCurve(cCA, caCurveHours, caCurveYellow, 'yellow');
drawCurve(cCA, caCurveHours, caCurveOrange, 'orange');
drawCurve(cCA, caCurveHours, caCurveRed, 'red');
drawDots(cCA, caBlueHours, caBlueGerm, 'blue');
drawDots(cCA, caGreenHours, caGreenGerm, 'green');
drawDots(cCA, caYellowHours, caYellowGerm, 'yellow');
drawDots(cCA, caOrangeHours, caOrangeGerm, 'orange');
drawDots(cCA, caRedHours, caRedGerm, 'red');
drawKey(cCA, caLegendLabels, ['blue','green','yellow','orange','red'], {x0:3207,x1:3313,y0:751,y1:1100});

drawAxes(cCB, actualTicks, germTicks);
drawScatter(cCB, cbActual, cbPredicted, cbTrend, cbTrendRange);

drawAxes(cCC, timeTicks500, germTicks);
drawCurve(cCC, ccCurveHours, ccCurveNavy, 'navy');
drawCurve(cCC, ccCurveHours, ccCurveBlack, 'black');
drawCurve(cCC, ccCurveHours, ccCurvePurple, 'purple');
drawCurve(cCC, ccCurveHours, ccCurveRed, 'red');
drawDots(cCC, ccNavyHours, ccNavyGerm, 'navy');
drawDots(cCC, ccBlackHours, ccBlackGerm, 'black');
drawDots(cCC, ccPurpleHours, ccPurpleGerm, 'purple');
drawDots(cCC, ccRedHours, ccRedGerm, 'red');
drawKey(cCC, ccLegendLabels, ['red','purple','black','navy'], {x0:3200,x1:3308,y0:1922,y1:2202});

drawAxes(cCD, actualTicks, germTicks);
drawScatter(cCD, cdActual, cdPredicted, cdTrend, cdTrendRange);
</script>
</body>
</html>
